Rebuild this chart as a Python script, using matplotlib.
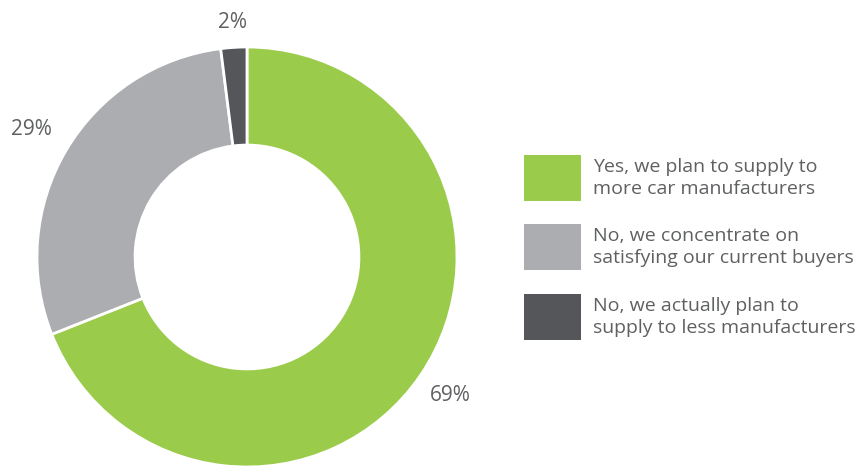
import numpy as np
import matplotlib
matplotlib.use("Agg")
import matplotlib.pyplot as plt
from matplotlib.patches import Rectangle

plt.rcParams["font.family"] = ["Open Sans", "DejaVu Sans"]

categorias = ["Yes, we plan to supply to\nmore car manufacturers",
              "No, we concentrate on\nsatisfying our current buyers",
              "No, we actually plan to\nsupply to less manufacturers"]
valores = [69, 29, 2]
rotulos = ["69%", "29%", "2%"]
cores = ["#9BCB4A", "#ACADB1", "#55565A"]
dist_rotulo = [1.17, 1.19, 1.12]

W, H = 858, 467
fig = plt.figure(figsize=(W / 100, H / 100), dpi=100)

# rosca: centro (247, 257) px, raio 210 px
cx, cy, R = 247, 257, 210
ax = fig.add_axes([(cx - R) / W, (H - cy - R) / H, 2 * R / W, 2 * R / H])
wedges, _ = ax.pie(valores, colors=cores, startangle=90, counterclock=False,
                   radius=1.0, wedgeprops=dict(width=0.467, edgecolor="white", linewidth=2))
for w in wedges:
    w.set_clip_on(False)
ax.set_xlim(-1, 1); ax.set_ylim(-1, 1); ax.set_aspect("equal"); ax.axis("off")

for w, txt, d in zip(wedges, rotulos, dist_rotulo):
    ang = np.deg2rad((w.theta1 + w.theta2) / 2)
    ax.text(d * np.cos(ang), d * np.sin(ang), txt, ha="center", va="center",
            fontsize=15, color="#5F6062", clip_on=False)

# legenda manual
ly = [178, 247, 317]
for y, c, txt in zip(ly, cores, categorias):
    fig.patches.append(Rectangle((524 / W, (H - y - 23) / H), 57 / W, 46 / H,
                                 transform=fig.transFigure, fc=c, ec="none"))
    fig.text(593 / W, (H - y) / H, txt, ha="left", va="center", fontsize=14,
             color="#5F6062", linespacing=1.3)

plt.savefig("out.png", dpi=100)
plt.close()
